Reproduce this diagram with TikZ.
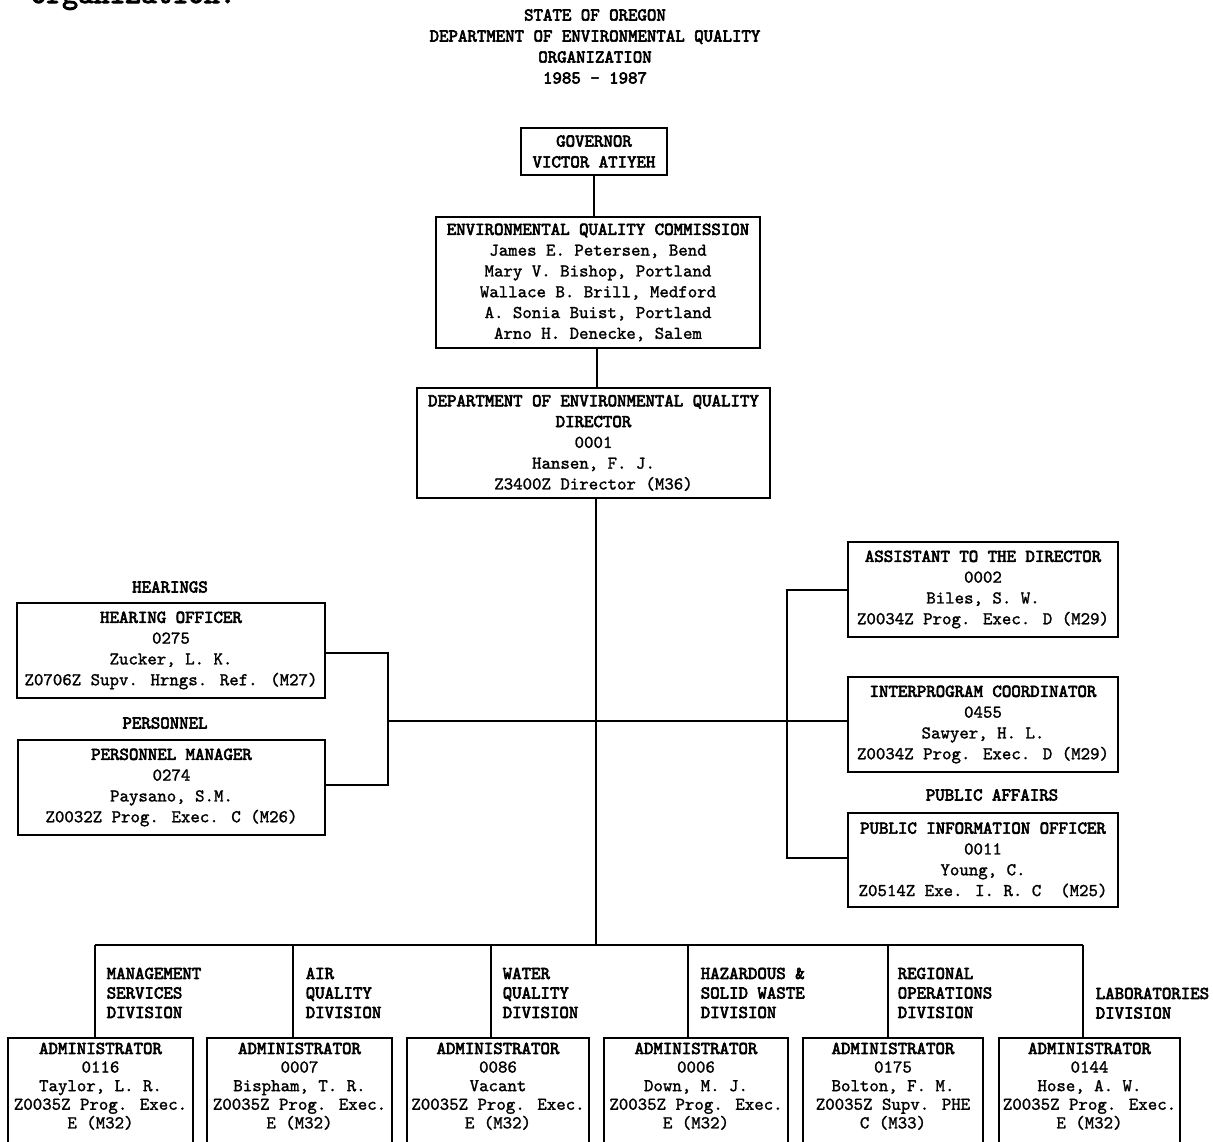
\documentclass[tikz,border=0pt]{standalone}
\usepackage{fontspec}
\newfontfamily\twr[FakeBold=1.4]{lmmono10-regular.otf}
\newfontfamily\twb[FakeBold=3.4]{lmmono10-regular.otf}
\newcommand\mysz{\fontsize{18}{20.8}\selectfont}
\newcommand\mysm{\fontsize{18}{18.6}\selectfont}
\newcommand\mydv{\fontsize{18}{19.5}\selectfont}
\begin{document}
\begin{tikzpicture}[x=1pt,y=-1pt,line width=1.5pt,
  box/.style={draw, line width=1.5pt, inner sep=0pt, align=center, font=\twr\mysz},
  admbox/.style={draw, line width=1.5pt, anchor=north, minimum height=150, inner sep=0pt},
  admtext/.style={anchor=north, inner sep=0pt, align=center, font=\twr\mysm},
  divlbl/.style={anchor=north west, inner sep=0pt, align=left, font=\twb\mydv},
  grplbl/.style={inner sep=0pt, font=\twb\mysz},
  conn/.style={line width=1.5pt}]
\useasboundingbox (0,0) rectangle (1213,1141);
\clip (0,0) rectangle (1213,1141);
% cropped heading at the very top (cut off in the source page)
\node[anchor=base west, inner sep=0pt, font=\twb\fontsize{30}{30}\selectfont] (orgtop) at (30,3) {organization.};
% title
\node[align=center, inner sep=0pt, font=\twb\fontsize{18}{21}\selectfont] (title) at (595,46.5)
  {STATE OF OREGON\\DEPARTMENT OF ENVIRONMENTAL QUALITY\\ORGANIZATION\\1985 - 1987};
% top chain
\node[box, minimum width=146, minimum height=47] (gov) at (594,151.5)
  {{\twb GOVERNOR}\\{\twb VICTOR ATIYEH}};
\node[box, minimum width=324, minimum height=131] (ceq) at (598,282.5)
  {{\twb ENVIRONMENTAL QUALITY COMMISSION}\\James E. Petersen, Bend\\Mary V. Bishop, Portland\\Wallace B. Brill, Medford\\A. Sonia Buist, Portland\\Arno H. Denecke, Salem};
\node[box, minimum width=353, minimum height=110] (dir) at (593.5,443)
  {{\twb DEPARTMENT OF ENVIRONMENTAL QUALITY}\\{\twb DIRECTOR}\\0001\\Hansen, F. J.\\Z3400Z Director (M36)};
% left staff
\node[grplbl] (hearlbl) at (170,587) {HEARINGS};
\node[box, minimum width=308, minimum height=95] (hear) at (171,650.5)
  {{\twb HEARING OFFICER}\\0275\\Zucker, L. K.\\Z0706Z Supv. Hrngs. Ref. (M27)};
\node[grplbl] (perslbl) at (165,723) {PERSONNEL};
\node[box, minimum width=307, minimum height=95] (pers) at (171.5,787.5)
  {{\twb PERSONNEL MANAGER}\\0274\\Paysano, S.M.\\Z0032Z Prog. Exec. C (M26)};
% right staff
\node[box, minimum width=270, minimum height=95] (asst) at (983,589.5)
  {{\twb ASSISTANT TO THE DIRECTOR}\\0002\\Biles, S. W.\\Z0034Z Prog. Exec. D (M29)};
\node[box, minimum width=270, minimum height=95] (inter) at (983,724.5)
  {{\twb INTERPROGRAM COORDINATOR}\\0455\\Sawyer, H. L.\\Z0034Z Prog. Exec. D (M29)};
\node[grplbl] (publbl) at (992,795) {PUBLIC AFFAIRS};
\node[box, minimum width=270, minimum height=94] (pio) at (983,860)
  {{\twb PUBLIC INFORMATION OFFICER}\\0011\\Young, C.\\Z0514Z Exe. I. R. C\ \ (M25)};
% divisions
\node[admbox, minimum width=185] (b1) at (100.5,1037) {};
\node[admbox, minimum width=185] (b2) at (299.5,1037) {};
\node[admbox, minimum width=182] (b3) at (498,1037) {};
\node[admbox, minimum width=184] (b4) at (696,1037) {};
\node[admbox, minimum width=180] (b5) at (893,1037) {};
\node[admbox, minimum width=181] (b6) at (1089.5,1037) {};
\node[admtext] (t1) at (100.5,1042) {{\twb ADMINISTRATOR}\\0116\\Taylor, L. R.\\Z0035Z Prog. Exec.\\E (M32)};
\node[admtext] (t2) at (299.5,1042) {{\twb ADMINISTRATOR}\\0007\\Bispham, T. R.\\Z0035Z Prog. Exec.\\E (M32)};
\node[admtext] (t3) at (498,1042) {{\twb ADMINISTRATOR}\\0086\\Vacant\\Z0035Z Prog. Exec.\\E (M32)};
\node[admtext] (t4) at (696,1042) {{\twb ADMINISTRATOR}\\0006\\Down, M. J.\\Z0035Z Prog. Exec.\\E (M32)};
\node[admtext] (t5) at (893,1042) {{\twb ADMINISTRATOR}\\0175\\Bolton, F. M.\\Z0035Z Supv. PHE\\C (M33)};
\node[admtext] (t6) at (1089.5,1042) {{\twb ADMINISTRATOR}\\0144\\Hose, A. W.\\Z0035Z Prog. Exec.\\E (M32)};
\node[divlbl] (d1) at (106,967) {MANAGEMENT\\SERVICES\\DIVISION};
\node[divlbl] (d2) at (305,967) {AIR\\QUALITY\\DIVISION};
\node[divlbl] (d3) at (502,967) {WATER\\QUALITY\\DIVISION};
\node[divlbl] (d4) at (700,967) {HAZARDOUS \&\\SOLID WASTE\\DIVISION};
\node[divlbl] (d5) at (897,967) {REGIONAL\\OPERATIONS\\DIVISION};
\node[divlbl] (d6) at (1095,987) {LABORATORIES\\DIVISION};
% junction coordinates
\coordinate (jm) at (596,945);
\coordinate (j1) at (95,945);
\coordinate (j2) at (293,945);
\coordinate (j3) at (491,945);
\coordinate (j4) at (688,945);
\coordinate (j5) at (888,945);
\coordinate (j6) at (1083,945);
\coordinate (lb1) at (388,653);
\coordinate (lb2) at (388,785);
\coordinate (lm) at (388,721);
\coordinate (rb1) at (787,590);
\coordinate (rb2) at (787,858);
\coordinate (rm) at (787,721);
% connectors
\draw[conn] (gov.south) -- (gov.south |- ceq.north);
\draw[conn] (ceq.south -| 597,0) -- (dir.north -| 597,0);
\draw[conn] (dir.south -| jm) -- (jm);
\draw[conn] (j1) -- (j6);
\draw[conn] (j1) -- (b1.north -| j1);
\draw[conn] (j2) -- (b2.north -| j2);
\draw[conn] (j3) -- (b3.north -| j3);
\draw[conn] (j4) -- (b4.north -| j4);
\draw[conn] (j5) -- (b5.north -| j5);
\draw[conn] (j6) -- (b6.north -| j6);
\draw[conn] (hear.east |- lb1) -- (lb1) -- (lb2) -- (pers.east |- lb2);
\draw[conn] (asst.west |- rb1) -- (rb1) -- (rb2) -- (pio.west |- rb2);
\draw[conn] (lm) -- (inter.west |- rm);
\end{tikzpicture}
\end{document}
